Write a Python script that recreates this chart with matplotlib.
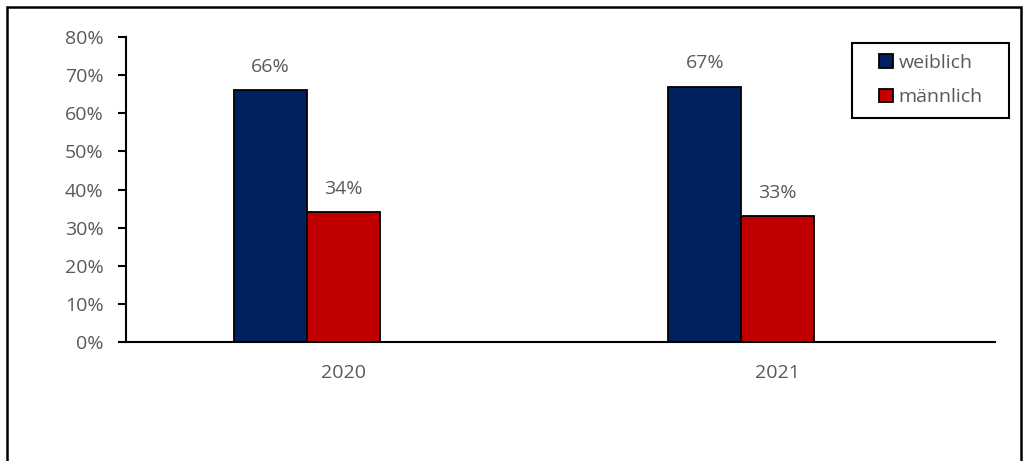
import matplotlib.pyplot as plt
from matplotlib.patches import Rectangle
import numpy as np

years = ["2020", "2021"]
weiblich = [0.66, 0.67]
maennlich = [0.34, 0.33]

plt.rcParams['font.family'] = ['Open Sans', 'DejaVu Sans']
grey = "#595959"
fs = 14

W, H = 1024, 461
fig = plt.figure(figsize=(W / 100, H / 100), dpi=100)
ax = fig.add_axes([0.123, 0.2581, 0.8487, 0.6616])

x = np.arange(len(years))
w = 0.168
b1 = ax.bar(x - w, weiblich, w, color="#002060", edgecolor="black", linewidth=1.3, label="weiblich")
b2 = ax.bar(x, maennlich, w, color="#C00000", edgecolor="black", linewidth=1.3, label="männlich")

for bars, vals in [(b1, weiblich), (b2, maennlich)]:
    for r, v in zip(bars, vals):
        ax.annotate(f"{v*100:.0f}%", (r.get_x() + r.get_width() / 2, v),
                    xytext=(0, 17), textcoords="offset points",
                    ha="center", va="center", fontsize=fs, color=grey)

ax.set_xlim(-0.5, 1.5)
ax.set_ylim(0, 0.8)
ax.set_yticks(np.arange(0, 0.81, 0.1))
ax.set_yticklabels([f"{t*100:.0f}%" for t in np.arange(0, 0.81, 0.1)])
ax.set_xticks(x)
ax.set_xticklabels(years)
ax.tick_params(axis="y", length=6, width=1.5, colors="black", labelcolor=grey, labelsize=fs, pad=10)
ax.tick_params(axis="x", length=0, labelcolor=grey, labelsize=fs, pad=16)
for s in ["top", "right"]:
    ax.spines[s].set_visible(False)
for s in ["left", "bottom"]:
    ax.spines[s].set_linewidth(1.5)

# legend box drawn separately so it can be wider than its entries
fig.patches.append(Rectangle((852 / W, 1 - 118 / H), 157 / W, 75 / H,
                             transform=fig.transFigure, fill=False,
                             edgecolor="black", linewidth=1.5))
leg = fig.legend(handles=[b1, b2], loc="center left",
                 bbox_to_anchor=(879 / W, 1 - 80 / H), fontsize=fs,
                 frameon=False, borderpad=0, borderaxespad=0,
                 handlelength=0.72, handleheight=0.72, handletextpad=0.3,
                 labelspacing=0.85, labelcolor=grey)

# outer frame, bottom edge runs past the canvas
fig.patches.append(Rectangle((7 / W, -0.05), 1014 / W, 1.05 - 7 / H,
                             transform=fig.transFigure, fill=False,
                             edgecolor="black", linewidth=1.8, clip_on=False))

fig.savefig("out.png", dpi=100)
